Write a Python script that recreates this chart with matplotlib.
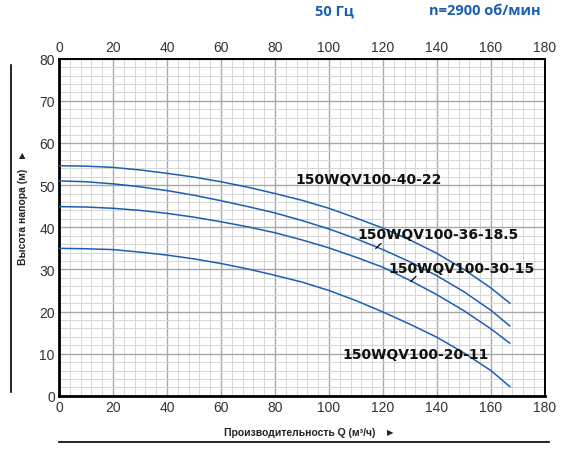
import numpy as np
from matplotlib import pyplot as plt
from matplotlib.ticker import MultipleLocator

# Q, m3/h
q = [0, 10, 20, 30, 40, 50, 60, 70, 80, 90, 100, 110, 120, 130, 140, 150, 160, 167]

# head, m
h_40_22 = [54.6, 54.5, 54.2, 53.6, 52.8, 51.9, 50.8, 49.5, 48.0, 46.4, 44.5, 42.2, 39.8, 37.0, 33.8, 30.0, 25.6, 22.0]
h_36_185 = [51.0, 50.8, 50.3, 49.6, 48.7, 47.6, 46.3, 44.9, 43.4, 41.6, 39.6, 37.3, 34.7, 31.8, 28.5, 24.7, 20.3, 16.6]
h_30_15 = [44.9, 44.8, 44.5, 44.0, 43.3, 42.4, 41.3, 40.1, 38.7, 37.0, 35.1, 32.9, 30.5, 27.4, 24.0, 20.2, 15.9, 12.5]
h_20_11 = [35.0, 34.9, 34.7, 34.1, 33.4, 32.5, 31.4, 30.1, 28.6, 27.0, 25.0, 22.6, 19.9, 17.0, 13.9, 10.2, 6.0, 2.2]

names = ["150WQV100-40-22", "150WQV100-36-18.5", "150WQV100-30-15", "150WQV100-20-11"]
name_pos = [(87.5, 51.4), (110.5, 38.4), (122, 30.3), (105, 10.0)]

blue = "#1b5fb0"

fig = plt.figure(figsize=(5.67, 4.52), dpi=100)
ax = fig.add_axes([0.104, 0.122, 0.857, 0.746])

for h in [h_40_22, h_36_185, h_30_15, h_20_11]:
    ax.plot(q, h, color=blue, lw=1.1, zorder=3)

for name, (x, y) in zip(names, name_pos):
    ax.text(x, y, name, fontsize=10, fontweight="bold", family="DejaVu Sans",
            color="#111111", va="center", ha="left", zorder=4)

# little leader marks
ax.plot([117.4, 119.2], [35.0, 36.1], color="black", lw=0.9, zorder=4)
ax.plot([130.4, 132.2], [27.2, 28.3], color="black", lw=0.9, zorder=4)

ax.set_xlim(0, 180)
ax.set_ylim(0, 80)
ax.xaxis.set_major_locator(MultipleLocator(20))
ax.xaxis.set_minor_locator(MultipleLocator(4))
ax.yaxis.set_major_locator(MultipleLocator(10))
ax.yaxis.set_minor_locator(MultipleLocator(2))
ax.grid(which="major", color="#a8a8a8", lw=1.0)
ax.grid(which="minor", color="#d6d6d6", lw=0.7)
ax.set_axisbelow(True)

ax.tick_params(which="both", length=0, labelsize=10, labelcolor="#333333", pad=3)
ax.tick_params(axis="x", top=True, labeltop=True)
for lab in ax.get_xticklabels() + ax.get_yticklabels():
    lab.set_family("Liberation Sans")

for side in ["left", "bottom"]:
    ax.spines[side].set_linewidth(2.0)
for side in ["top", "right"]:
    ax.spines[side].set_linewidth(1.4)

# header
fig.text(0.590, 0.975, "50 Гц", color=blue, fontsize=10.5, fontweight="bold",
         family="Open Sans", ha="center", va="center")
fig.text(0.855, 0.975, "n=2900 об/мин", color=blue, fontsize=10.5, fontweight="bold",
         family="Open Sans", ha="center", va="center")

# axis titles
fig.text(0.528, 0.043, "Производительность Q (м³/ч)", fontsize=7.5, fontweight="bold",
         family=["Liberation Sans", "DejaVu Sans"], color="#222222", ha="center", va="center")
fig.text(0.688, 0.043, "▶", fontsize=6, family="DejaVu Sans", color="#222222", ha="center", va="center")
fig.add_artist(plt.Line2D([0.104, 0.968], [0.019, 0.019], color="black", lw=1.2))

fig.text(0.040, 0.52, "Высота напора (м)", fontsize=7.5, fontweight="bold", rotation=90,
         family=["Liberation Sans", "DejaVu Sans"], color="#222222", ha="center", va="center")
fig.text(0.040, 0.657, "▲", fontsize=6, family="DejaVu Sans", color="#222222", ha="center", va="center")
fig.add_artist(plt.Line2D([0.019, 0.019], [0.13, 0.855], color="black", lw=1.2))

fig.savefig("out.png", dpi=100)
